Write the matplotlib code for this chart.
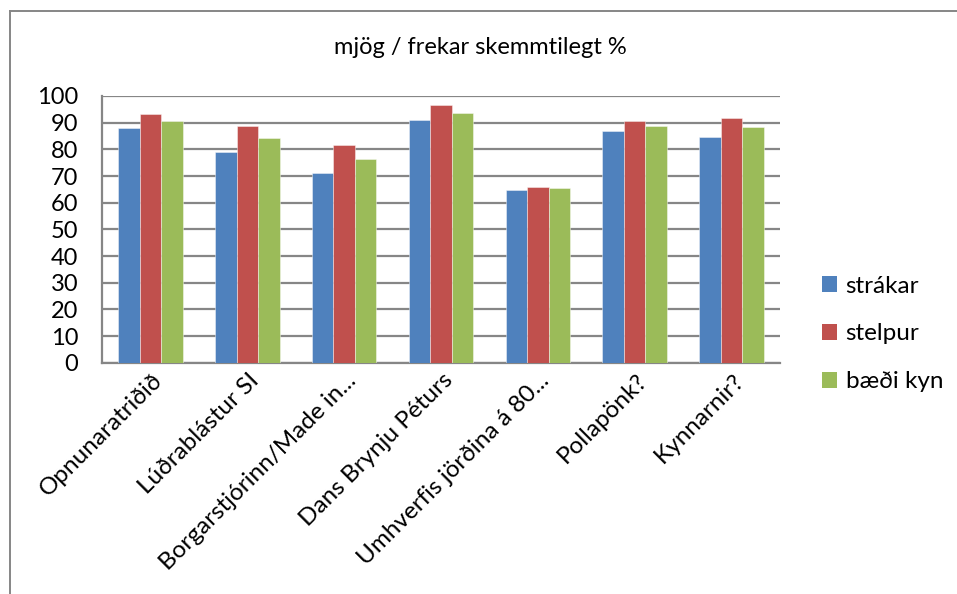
import matplotlib
matplotlib.use("Agg")
import matplotlib.pyplot as plt
from matplotlib.lines import Line2D
from matplotlib.patches import Patch
import matplotlib.transforms as mtransforms
import numpy as np

plt.rcParams['font.family'] = ['Lato', 'DejaVu Sans']

categories = ["Opnunaratriðið", "Lúðrablástur SI", "Borgarstjórinn/Made in...",
              "Dans Brynju Péturs", "Umhverfis jörðina á 80...", "Pollapönk?", "Kynnarnir?"]
series_names = ["strákar", "stelpur", "bæði kyn"]
strakar = [88.1, 79.1, 71.0, 90.9, 64.8, 86.9, 84.8]
stelpur = [93.1, 88.9, 81.6, 96.5, 65.9, 90.6, 91.6]
baedi = [90.6, 84.1, 76.4, 93.8, 65.4, 88.6, 88.4]
yticks = [0, 10, 20, 30, 40, 50, 60, 70, 80, 90, 100]
title = "mjög / frekar skemmtilegt %"

colors = ["#4F81BD", "#C0504D", "#9BBB59"]
W, H = 957, 594
fig = plt.figure(figsize=(W/100, H/100), dpi=100)
ax = fig.add_axes([102/W, 1-362.7/H, (780-102)/W, (362.7-96)/H])

x = np.arange(len(categories))
bw = 0.222
for i, (vals, c) in enumerate(zip([strakar, stelpur, baedi], colors)):
    ax.bar(x + (i-1)*bw, vals, width=bw, color=c, edgecolor=(1, 1, 1, 0.5),
           linewidth=0.6, zorder=3)

ax.set_xlim(-0.5, len(categories)-0.5)
ax.set_ylim(0, 100)
ax.set_yticks(yticks)
ax.set_yticklabels([str(v) for v in yticks], fontsize=17)
ax.yaxis.grid(True, color="#868686", linewidth=1.6, zorder=0)
ax.set_axisbelow(True)
for s in ["top", "right"]:
    ax.spines[s].set_visible(False)
for s in ["left", "bottom"]:
    ax.spines[s].set_color("#868686")
    ax.spines[s].set_linewidth(1.6)
ax.tick_params(axis="y", length=0, pad=17)
ax.tick_params(axis="x", length=0, pad=0)
ax.set_xticks(x)
ax.set_xticklabels(categories, rotation=45, ha="right", va="baseline",
                   rotation_mode="anchor", fontsize=17.5)
off = mtransforms.ScaledTranslation(13/100, -19/100, fig.dpi_scale_trans)
for lab in ax.get_xticklabels():
    lab.set_transform(lab.get_transform() + off)

fig.text(480/W, 1-47/H, title, ha="center", va="center", fontsize=17)

handles = [Patch(facecolor=c, edgecolor="none") for c in colors]
fig.legend(handles, series_names, loc="center left", bbox_to_anchor=(822/W, 1-334/H),
           frameon=False, fontsize=17.5, handlelength=0.62, handleheight=0.62,
           labelspacing=1.1, handletextpad=0.35, borderaxespad=0, borderpad=0)

fig.add_artist(Line2D([10/W, 10/W], [0, 1-11/H], color="#868686", linewidth=1.4))
fig.add_artist(Line2D([10/W, 1], [1-11/H, 1-11/H], color="#868686", linewidth=1.4))

fig.savefig("out.png", dpi=100)
